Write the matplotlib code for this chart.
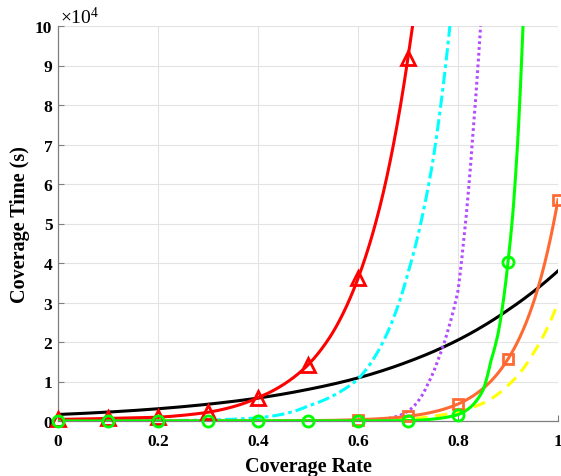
import numpy as np
import matplotlib
matplotlib.use("Agg")
import matplotlib.pyplot as plt
from matplotlib.ticker import FuncFormatter

# ---- data (seconds) ----
red_x = [0, 0.1, 0.2, 0.3, 0.4, 0.5, 0.55, 0.6, 0.65, 0.7, 0.75]
red_y = [400, 650, 950, 2200, 5900, 14200, 22500, 36100, 57500, 92000, 145000]

cyan_x = [0, 0.1, 0.2, 0.3, 0.4, 0.5, 0.55, 0.6, 0.65, 0.7, 0.75, 0.8]
cyan_y = [30, 50, 100, 250, 800, 3800, 6400, 10600, 20000, 37500, 66000, 122000]

purple_x = [0, 0.1, 0.2, 0.3, 0.4, 0.5, 0.6, 0.65, 0.7, 0.72, 0.74, 0.76, 0.78,
            0.8, 0.81, 0.82, 0.83, 0.84, 0.85]
purple_y = [10, 10, 10, 20, 30, 50, 120, 450, 2500, 5000, 9500, 15500, 23000,
            33000, 44000, 57000, 73000, 90000, 110000]

green_x = [0, 0.1, 0.2, 0.3, 0.4, 0.5, 0.6, 0.7, 0.75, 0.8, 0.825, 0.85, 0.865,
           0.88, 0.9, 0.91, 0.92, 0.93, 0.94]
green_y = [5, 5, 5, 5, 5, 8, 20, 100, 500, 1600, 3500, 7800, 14900,
           22000, 40300, 53000, 72000, 100000, 135000]

orange_x = [0, 0.1, 0.2, 0.3, 0.4, 0.5, 0.6, 0.7, 0.8, 0.9, 1.0]
orange_y = [3, 5, 10, 20, 40, 90, 330, 1200, 4300, 15700, 56000]

yellow_x = [0, 0.1, 0.2, 0.3, 0.4, 0.5, 0.6, 0.7, 0.75, 0.8, 0.85, 0.9, 0.95, 1.0]
yellow_y = [2, 3, 5, 10, 20, 40, 150, 500, 1200, 2400, 4500, 9000, 17000, 30000]

black_x = [0, 0.1, 0.2, 0.3, 0.4, 0.5, 0.6, 0.7, 0.8, 0.9, 1.0]
black_y = [1650, 2260, 3100, 4250, 5800, 8000, 10900, 15000, 20500, 28100, 38000]

marker_x = [0, 0.1, 0.2, 0.3, 0.4, 0.5, 0.6, 0.7, 0.8, 0.9, 1.0]

x_ticks = [0, 0.2, 0.4, 0.6, 0.8, 1]
x_tick_labels = ["0", "0.2", "0.4", "0.6", "0.8", "1"]
y_ticks = list(range(0, 100001, 10000))

plt.rcParams['font.family'] = ['Liberation Serif', 'DejaVu Serif']
plt.rcParams['mathtext.fontset'] = 'custom'
plt.rcParams['mathtext.rm'] = 'Liberation Serif'
plt.rcParams['mathtext.it'] = 'Liberation Serif:italic'
plt.rcParams['mathtext.bf'] = 'Liberation Serif:bold'

fig = plt.figure(figsize=(5.61, 4.77), dpi=100)
ax = fig.add_axes([58/561, 55/477, 500/561, 395/477])

xs = np.linspace(0, 1, 1001)


def smooth(x, y):
    # draw a smooth curve through read points (log-linear between points)
    x = np.asarray(x, float)
    ly = np.log(np.asarray(y, float))
    m = xs <= x[-1]
    return xs[m], np.exp(np.interp(xs[m], x, ly))


def mk(x, y, pts):
    ly = np.log(np.asarray(y, float))
    return pts, np.exp(np.interp(pts, x, ly))


lw = 2.2
c_red = '#FF0000'
c_cyan = '#00FFFF'
c_purple = '#B44CFF'
c_green = '#00FF00'
c_orange = '#FF6A33'
c_yellow = '#FFFF00'

sx, sy = smooth(black_x, black_y)
ax.plot(sx, sy, color='black', lw=lw, zorder=3)

sx, sy = smooth(yellow_x, yellow_y)
ax.plot(sx, sy, color=c_yellow, lw=lw, dashes=(4, 2.5), zorder=3)

sx, sy = smooth(cyan_x, cyan_y)
ax.plot(sx, sy, color=c_cyan, lw=lw, dashes=(4, 1.3, 1.2, 1.3), zorder=3)

sx, sy = smooth(purple_x, purple_y)
ax.plot(sx, sy, color=c_purple, lw=lw, dashes=(0.9, 1.0), zorder=3)

sx, sy = smooth(orange_x, orange_y)
ax.plot(sx, sy, color=c_orange, lw=lw, zorder=4)
px, py = mk(orange_x, orange_y, marker_x[6:])
ax.plot(px, py, ls='none', marker='s', ms=6.5, mfc='none', mec=c_orange, mew=2, zorder=5, clip_on=False)

sx, sy = smooth(red_x, red_y)
ax.plot(sx, sy, color=c_red, lw=lw, zorder=4)
px, py = mk(red_x, red_y, marker_x[:8])
ax.plot(px, py, ls='none', marker='^', ms=10, mfc='none', mec=c_red, mew=2, zorder=5, clip_on=False)

sx, sy = smooth(green_x, green_y)
ax.plot(sx, sy, color=c_green, lw=lw, zorder=4)
px, py = mk(green_x, green_y, marker_x[:10])
ax.plot(px, py, ls='none', marker='o', ms=8, mfc='none', mec=c_green, mew=2, zorder=6, clip_on=False)

ax.set_xlim(0, 1)
ax.set_ylim(0, 100000)
ax.set_xticks(x_ticks)
ax.set_xticklabels(x_tick_labels)
ax.set_yticks(y_ticks)
ax.yaxis.set_major_formatter(FuncFormatter(lambda v, p: f"{int(round(v/10000))}"))

for lab in ax.get_xticklabels() + ax.get_yticklabels():
    lab.set_fontweight('bold')
    lab.set_fontsize(12.5)

ax.tick_params(direction='in', length=4, width=0.8, color='#7f7f7f')
ax.tick_params(axis='x', pad=9)
ax.tick_params(axis='y', pad=4)
ax.grid(True, color='#e3e3e3', lw=0.8, zorder=0)
ax.set_axisbelow(True)
for s in ['top', 'right']:
    ax.spines[s].set_visible(False)
for s in ['left', 'bottom']:
    ax.spines[s].set_color('#7f7f7f')
    ax.spines[s].set_linewidth(0.9)

ax.set_xlabel('Coverage Rate', fontsize=14.5, fontweight='bold', labelpad=5)
ax.set_ylabel('Coverage Time (s)', fontsize=14.5, fontweight='bold', labelpad=4)
ax.text(0.004, 1.008, r'$\times10^{4}$', transform=ax.transAxes, fontsize=14,
        ha='left', va='baseline')

fig.savefig('out.png', dpi=100)
